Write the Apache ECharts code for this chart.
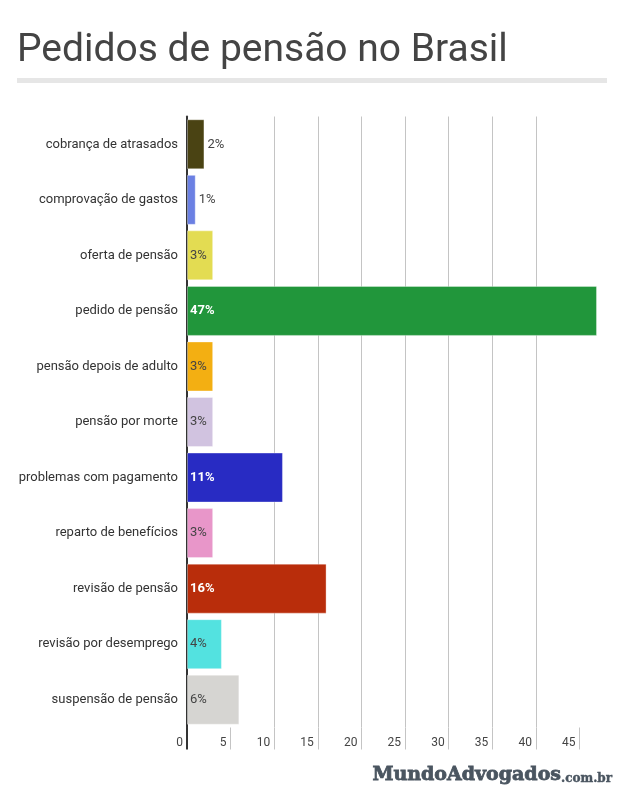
<!DOCTYPE html>
<html><head><meta charset="utf-8">
<script src="https://cdn.jsdelivr.net/npm/echarts@6/dist/echarts.min.js"></script>
<style>html,body{margin:0;padding:0;background:#fff}#c{width:621px;height:797px}</style>
</head><body><div id="c"></div>
<script>
const categories = ["cobrança de atrasados","comprovação de gastos","oferta de pensão","pedido de pensão","pensão depois de adulto","pensão por morte","problemas com pagamento","reparto de benefícios","revisão de pensão","revisão por desemprego","suspensão de pensão"];
const values = [2, 1, 3, 47, 3, 3, 11, 3, 16, 4, 6];
const labels = ["2%","1%","3%","47%","3%","3%","11%","3%","16%","4%","6%"];
const colors = ["#4a4313","#6b80e3","#e3dc52","#21963b","#f3af12","#d1c3e0","#282bc3","#e896c9","#b92d0b","#53e2e0","#d6d5d2"];
const darkBars = [true,false,false,true,false,false,true,false,true,false,false];
const xTicks = [0,5,10,15,20,25,30,35,40,45];
const title = "Pedidos de pensão no Brasil";

const chart = echarts.init(document.getElementById('c'), null, {renderer:'canvas'});
const data = values.map((v,i)=>{
  const inside = v >= 3;
  const white = darkBars[i] && inside;
  return {
    value: v,
    itemStyle: {color: colors[i]},
    label: {
      position: inside ? 'insideLeft' : 'right',
      distance: 3,
      color: white ? '#ffffff' : '#444444',
      fontWeight: white ? 'bold' : 'normal',
      formatter: labels[i]
    }
  };
});
chart.setOption({
  animation:false,
  title:{text:title,left:12,top:27,textStyle:{fontFamily:'Roboto',fontSize:39,fontWeight:400,color:'#444444'}},
  graphic:[
    {type:'rect',shape:{x:17,y:78,width:590,height:5},style:{fill:'#e6e6e6'}},
    {type:'text',left:372,top:765,style:{
      text:'{a|MundoAdvogados}{b|.com.br}',
      rich:{
        a:{font:'bold 19px "DejaVu Serif"',fill:'#4a5560',stroke:'#4a5560',lineWidth:0.8,verticalAlign:'bottom'},
        b:{font:'bold 12px "DejaVu Serif"',fill:'#4a5560',stroke:'#4a5560',lineWidth:0.4,verticalAlign:'bottom'}
      }
    }}
  ],
  grid:{left:187,right:24,top:116.5,bottom:69.5,containLabel:false},
  xAxis:[{
    type:'value',min:0,max:47,interval:5,position:'bottom',
    axisLine:{show:false},
    axisTick:{show:true,length:22,customValues:xTicks.slice(1),lineStyle:{color:'#c4c4c4',width:1}},
    axisLabel:{customValues:xTicks,align:'right',margin:9,padding:[0,4,0,0],color:'#444',fontFamily:'Roboto',fontSize:12},
    splitLine:{show:true,showMinLine:false,showMaxLine:false,lineStyle:{color:'#c4c4c4',width:1}}
  },{
    type:'value',min:0,max:47,position:'bottom',
    axisLine:{show:false},axisLabel:{show:false},splitLine:{show:false},
    axisTick:{show:true,length:22,customValues:[0],lineStyle:{color:'#333',width:2}}
  }],
  yAxis:{
    type:'category',data:categories,inverse:true,
    axisLine:{show:true,lineStyle:{color:'#333',width:2}},
    axisTick:{show:false},
    axisLabel:{color:'#333',fontFamily:'Roboto',fontSize:13,margin:9}
  },
  series:[{
    type:'bar',data:data,barCategoryGap:'10%',xAxisIndex:0,
    itemStyle:{borderColor:'rgba(255,255,255,0.35)',borderWidth:1},
    label:{show:true,fontFamily:'Roboto',fontSize:13}
  }]
});
</script></body></html>
